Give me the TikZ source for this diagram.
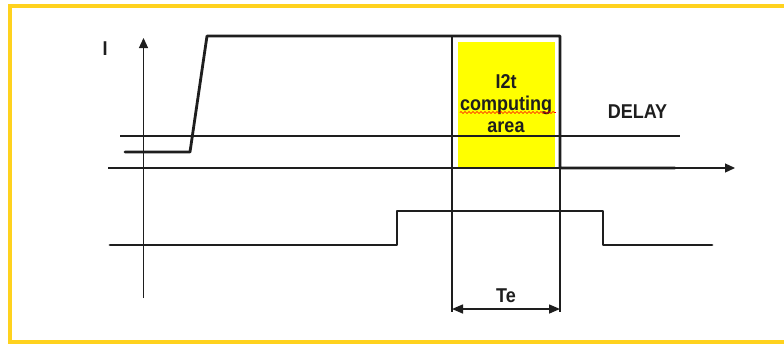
\documentclass[tikz,border=0pt]{standalone}
\usepackage{fontspec}
\setmainfont{Liberation Sans}
\newfontfamily\labfont[FakeStretch=0.9]{Liberation Sans}
\usetikzlibrary{arrows.meta,decorations.pathmorphing}
\definecolor{frameyellow}{RGB}{255,210,30}
\definecolor{hiyellow}{RGB}{255,255,0}
\definecolor{ink}{RGB}{30,30,30}
\begin{document}
\begin{tikzpicture}[x=1pt,y=-1pt,
  sig/.style={line width=2.8pt, draw=ink, line join=round, line cap=round},
  thin/.style={line width=1.2pt, draw=ink},
  axis/.style={line width=1.2pt, draw=ink, -{Triangle[length=10pt,width=9pt]}},
  dim/.style={line width=1.5pt, draw=ink, {Triangle[length=11pt,width=9pt]}-{Triangle[length=11pt,width=9pt]}},
  lab/.style={font=\labfont\bfseries\fontsize{20}{22}\selectfont, inner sep=0pt, anchor=base, text=ink}]
\useasboundingbox (0,0) rectangle (784,343);
\clip (0,0) rectangle (784,343);
\fill[white] (0,0) rectangle (784,343);
\draw[frameyellow, line width=4pt] (10,6) rectangle (800,342);

% highlighted computing area
\fill[hiyellow] (458,42) rectangle (555,168);

% key points
\coordinate (s0) at (125,152);
\coordinate (s1) at (190,152);
\coordinate (s2) at (207,36);
\coordinate (s3) at (560,36);
\coordinate (s4) at (560,168);
\coordinate (s5) at (675,168);
\coordinate (thA) at (120,136);
\coordinate (thB) at (680,136);
\coordinate (tA) at (108,168);
\coordinate (tB) at (735,168);
\coordinate (yA) at (143.5,298);
\coordinate (yB) at (143.5,38);
\coordinate (vL0) at (452,36);
\coordinate (vL1) at (452,312);
\coordinate (vR1) at (560,312);
\coordinate (d0) at (110,245);
\coordinate (d1) at (397,245);
\coordinate (d2) at (397,211);
\coordinate (d3) at (603,211);
\coordinate (d4) at (603,245);
\coordinate (d5) at (712,245);
\coordinate (teL) at (452,309);
\coordinate (teR) at (560,309);

% thin lines
\draw[thin] (thA) -- (thB);
\draw[axis] (tA) -- (tB);
\draw[axis] (yA) -- (yB);
\draw[thin] (vL0) -- (vL1);
\draw[thin] (s4) -- (vR1);

% signals
\draw[sig] (s0) -- (s1) -- (s2) -- (s3) -- (s4) -- (s5);
\draw[sig] (d0) -- (d1) -- (d2) -- (d3) -- (d4) -- (d5);

% dimension
\draw[dim] (teL) -- (teR);

% labels
\node[lab] (lI) at (105,55) {I};
\node[lab] (lDelay) at (637.5,118) {DELAY};
\node[lab] (l1) at (506,88) {I2t};
\node[lab] (l2) at (506,110) {computing};
\node[lab] (l3) at (506,132) {area};
\node[lab] (lTe) at (506,302) {Te};
\draw[red, line width=0.6pt, decorate, decoration={snake, segment length=4pt, amplitude=1pt}] (l2.base west) ++(0,2.5) -- ++(96,0);
\end{tikzpicture}
\end{document}
